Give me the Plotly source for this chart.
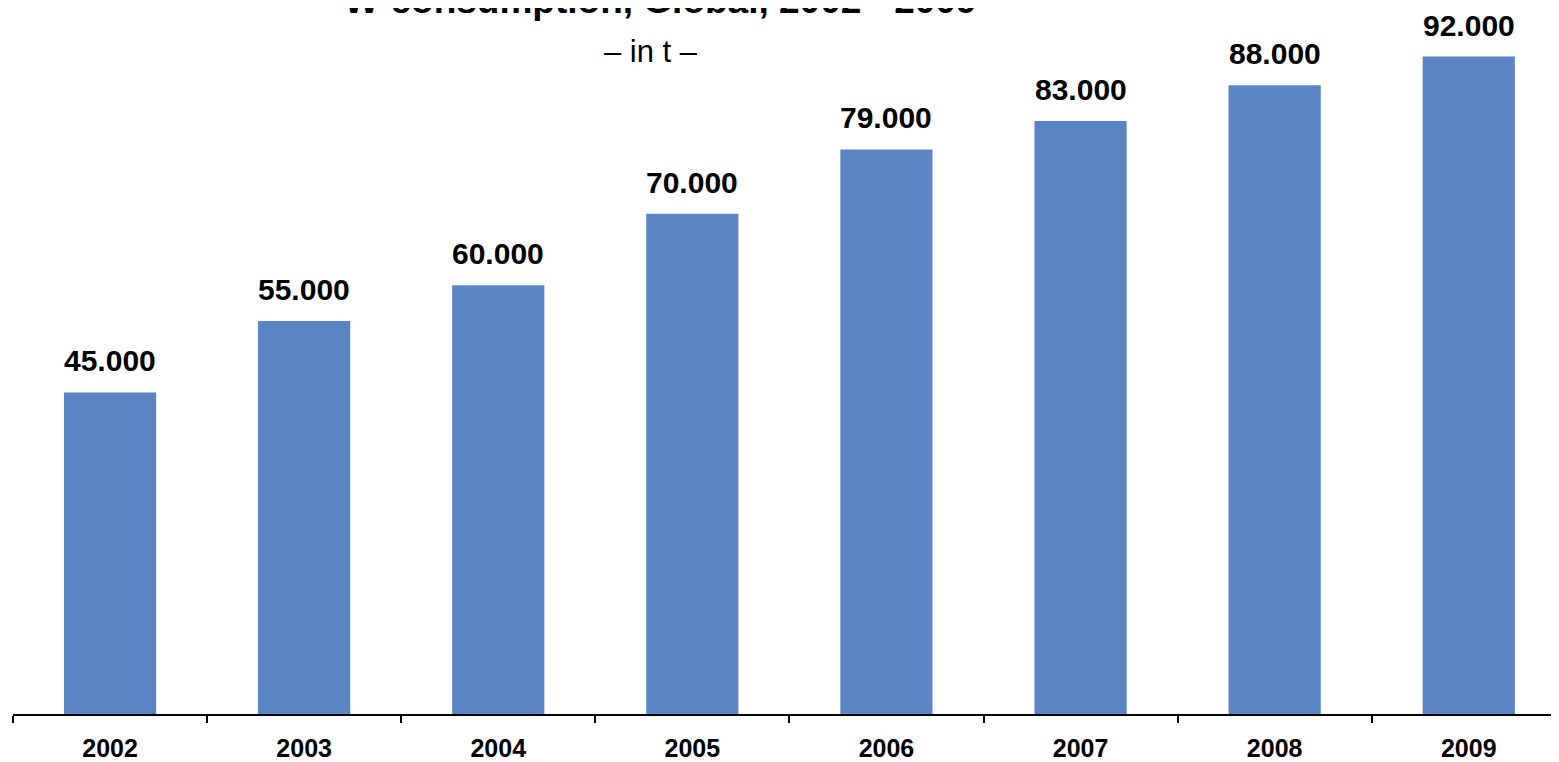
import plotly.graph_objects as go

years = ["2002", "2003", "2004", "2005", "2006", "2007", "2008", "2009"]
consumption = [45000, 55000, 60000, 70000, 79000, 83000, 88000, 92000]
value_labels = ["45.000", "55.000", "60.000", "70.000", "79.000", "83.000", "88.000", "92.000"]

title_text = "W-consumption, Global, 2002 - 2009"
subtitle_text = "– in t –"

FONT = "Liberation Sans, Arial, sans-serif"
BAR_COLOR = "#5A84C3"

fig = go.Figure()
fig.add_trace(go.Bar(
    x=years,
    y=consumption,
    width=0.475,
    marker=dict(color=BAR_COLOR, line=dict(width=0)),
    hoverinfo="x+y",
))

for i, (val, lab) in enumerate(zip(consumption, value_labels)):
    fig.add_annotation(
        x=i, y=val, xref="x", yref="y",
        text=f"<b>{lab}</b>", showarrow=False,
        yanchor="bottom", yshift=13,
        font=dict(family=FONT, size=30, color="#000000"),
    )

fig.add_annotation(
    x=0.419, y=1, xref="paper", yref="paper",
    text=f"<b>{title_text}</b>", showarrow=False,
    xanchor="center", yanchor="bottom", yshift=-15,
    font=dict(family=FONT, size=37, color="#000000"),
)
fig.add_annotation(
    x=0.413, y=1, xref="paper", yref="paper",
    text=subtitle_text, showarrow=False,
    xanchor="center", yanchor="middle", yshift=-43,
    font=dict(family=FONT, size=31, color="#000000"),
)

fig.update_layout(
    width=1551, height=754,
    margin=dict(l=5, r=0, t=0, b=48),
    paper_bgcolor="white", plot_bgcolor="white",
    showlegend=False,
    bargap=0.525,
    font=dict(family=FONT, color="#000000"),
)
fig.update_xaxes(
    type="category",
    range=[-0.5, 7.465],
    showline=True, linecolor="#000000", linewidth=2,
    ticks="outside", tickson="boundaries", ticklen=7, tickwidth=2, tickcolor="#000000",
    tickfont=dict(family=FONT, size=25, color="#000000"),
    ticklabelstandoff=11,
    tickprefix="<b>", ticksuffix="</b>",
    showgrid=False, zeroline=False,
)
fig.update_yaxes(
    range=[0, 98800],
    visible=False, showgrid=False, zeroline=False,
)

fig.write_html("out.html")
